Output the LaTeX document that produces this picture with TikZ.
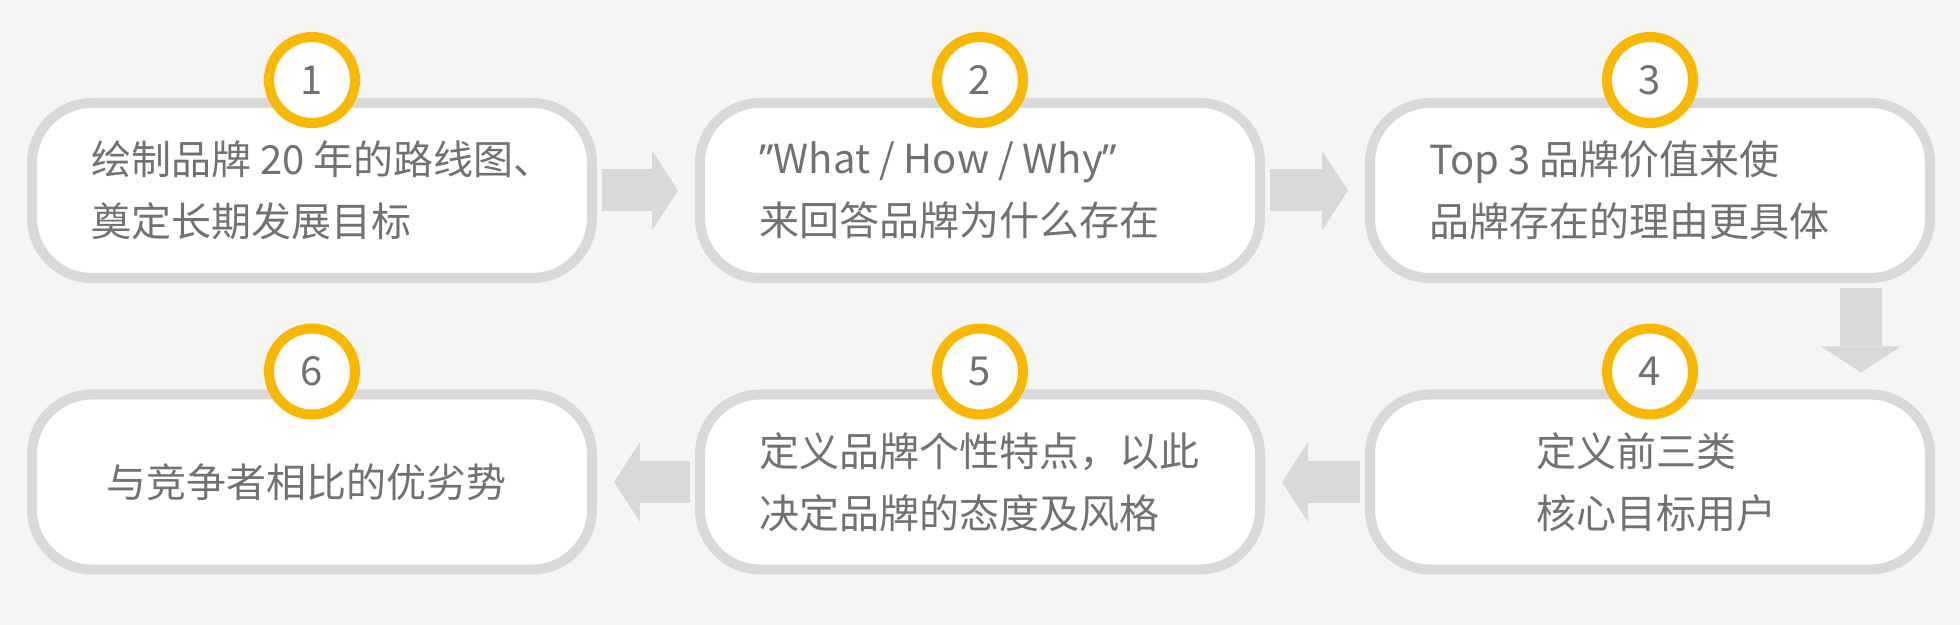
\documentclass[tikz,border=0pt]{standalone}
\usepackage{fontspec}
\setmainfont{Noto Sans CJK SC}
\newfontfamily\latinfont{Noto Sans}
\usetikzlibrary{arrows.meta,positioning}
\definecolor{pagebg}{HTML}{F5F5F5}
\definecolor{edgegray}{HTML}{D9D9D9}
\definecolor{ringyellow}{HTML}{F9B800}
\definecolor{textgray}{HTML}{717171}

\begin{document}
\begin{tikzpicture}
            [x=0.5pt, y=-0.5pt,
             every node/.style={inner sep=0pt},
             stepbox/.style={rectangle, rounded corners=30pt, minimum width=280pt, minimum height=87.5pt, line width=5pt, draw=edgegray, fill=white},
             steptext/.style={text=textgray, align=left, font=\fontsize{20pt}{31pt}\selectfont},
             badge/.style={circle, minimum size=43pt, line width=5pt, draw=ringyellow, fill=white, text=textgray, font=\fontsize{20pt}{24pt}\selectfont},
             flow/.style={line width=21pt, draw=edgegray, shorten <=2.5pt, shorten >=8.5pt, -{Triangle[width=40pt, length=13pt, line width=0pt]}}]
                \fill[pagebg] (0,0) rectangle (1960,625);
                \useasboundingbox (0,0) rectangle (1960,625);
                \node (b1) [stepbox] at (312, 190.5) {};
                \node (b2) [stepbox] at (980, 190.5) {};
                \node (b3) [stepbox] at (1650, 190.5) {};
                \node (b4) [stepbox] at (1650, 482) {};
                \node (b5) [stepbox] at (980, 482) {};
                \node (b6) [stepbox] at (312, 482) {};
                \draw [flow] (b1) -- (b2);
                \draw [flow] (b2) -- (b3);
                \draw [flow] ([xshift=105.5pt]b3.south) -- ([xshift=105.5pt]b4.north);
                \draw [flow] (b4) -- (b5);
                \draw [flow] (b5) -- (b6);
                \node (n1) [badge] at ([yshift=9pt]b1.north) {1};
                \node (n2) [badge] at ([yshift=9pt]b2.north) {2};
                \node (n3) [badge] at ([yshift=9pt]b3.north) {3};
                \node (n4) [badge] at ([yshift=9pt]b4.north) {4};
                \node (n5) [badge] at ([yshift=9pt]b5.north) {5};
                \node (n6) [badge] at ([yshift=9pt]b6.north) {6};
                \node (t1) [steptext, right=32pt of b1.west] {绘制品牌 20 年的路线图、\\奠定长期发展目标};
                \node (t2) [steptext, right=32pt of b2.west] {{\latinfont ”}What / How / Why{\latinfont ”}\\来回答品牌为什么存在};
                \node (t3) [steptext, right=32pt of b3.west] {Top 3 品牌价值来使\\品牌存在的理由更具体};
                \node (t4) [steptext] at ([xshift=3pt]b4.center) {定义前三类\\核心目标用户};
                \node (t5) [steptext, right=32pt of b5.west] {定义品牌个性特点，以此\\决定品牌的态度及风格};
                \node (t6) [steptext] at ([xshift=-3pt]b6.center) {与竞争者相比的优劣势};
            \end{tikzpicture}
\end{document}
